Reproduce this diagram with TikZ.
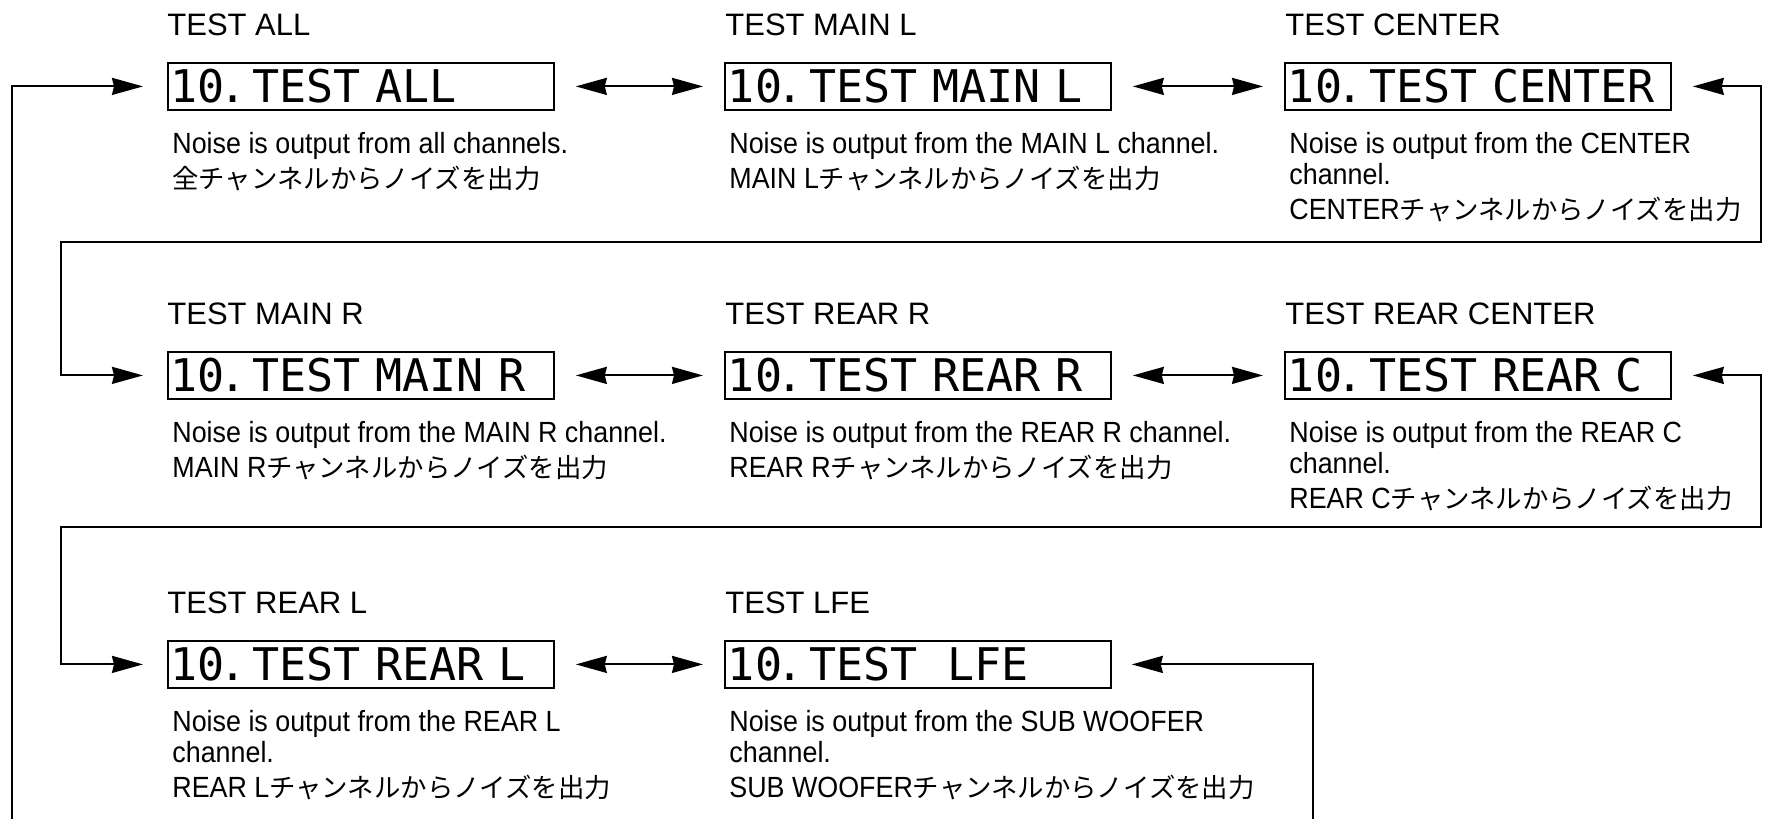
\documentclass[tikz,border=0pt]{standalone}
\usepackage{fontspec}
\setmainfont{Liberation Sans}
\newfontfamily\bodyfont{Liberation Sans}[FakeStretch=0.92]
\newfontfamily\jpfont{Noto Sans CJK JP}
\newfontfamily\lcdfont{DejaVu Sans Mono}
\usetikzlibrary{arrows.meta, positioning}

\newcommand\jp[1]{{\jpfont\fontsize{13.2}{15.5}\selectfont #1}}
\newcommand\lcdno{10\kern-3pt.\kern3pt}

\tikzset{
  lcd/.style={draw, line width=0.9pt, anchor=north west, minimum height=23.5pt,
    text width=190pt, inner xsep=1.5pt, inner ysep=0pt, align=left,
    font=\lcdfont\fontsize{22.5}{22.5}\selectfont},
  title/.style={anchor=base west, inner sep=0pt, font=\fontsize{15.5}{18}\selectfont},
  note/.style={anchor=north west, inner sep=0pt, align=left,
    font=\bodyfont\fontsize{14.6}{15.5}\selectfont},
  tip/.tip={Stealth[length=15.5pt, width=8.5pt, inset=1pt]},
  flow/.style={line width=1pt, -tip},
  both/.style={line width=1pt, tip-tip}
}

\begin{document}
\begin{tikzpicture}[x=0.5pt, y=-0.5pt]
    \useasboundingbox (0,0) rectangle (1766,819);

    % Row 1
    \node[title] (tall) at (167,35) {TEST ALL};
    \node[lcd] (all) at (167,62) {\lcdno TEST ALL};
    \node[note] (nall) at (172,132) {Noise is output from all channels.\\[2pt]
      \jp{全チャンネルからノイズを出力}};

    \node[title] (tmainl) at (725,35) {TEST MAIN L};
    \node[lcd] (mainl) at (724,62) {\lcdno TEST MAIN L};
    \node[note] (nmainl) at (729,132) {Noise is output from the MAIN L channel.\\[2pt]
      MAIN L\jp{チャンネルからノイズを出力}};

    \node[title] (tcen) at (1285,35) {TEST CENTER};
    \node[lcd] (cen) at (1284,62) {\lcdno TEST CENTER};
    \node[note] (ncen) at (1289,132) {Noise is output from the CENTER\\ channel.\\[2pt]
      CENTER\jp{チャンネルからノイズを出力}};

    % Row 2
    \node[title] (tmainr) at (167,324) {TEST MAIN R};
    \node[lcd] (mainr) at (167,351) {\lcdno TEST MAIN R};
    \node[note] (nmainr) at (172,421) {Noise is output from the MAIN R channel.\\[2pt]
      MAIN R\jp{チャンネルからノイズを出力}};

    \node[title] (trearr) at (725,324) {TEST REAR R};
    \node[lcd] (rearr) at (724,351) {\lcdno TEST REAR R};
    \node[note] (nrearr) at (729,421) {Noise is output from the REAR R channel.\\[2pt]
      REAR R\jp{チャンネルからノイズを出力}};

    \node[title] (trearc) at (1285,324) {TEST REAR CENTER};
    \node[lcd] (rearc) at (1284,351) {\lcdno TEST REAR C};
    \node[note] (nrearc) at (1289,421) {Noise is output from the REAR C\\ channel.\\[2pt]
      REAR C\jp{チャンネルからノイズを出力}};

    % Row 3
    \node[title] (trearl) at (167,613) {TEST REAR L};
    \node[lcd] (rearl) at (167,640) {\lcdno TEST REAR L};
    \node[note] (nrearl) at (172,710) {Noise is output from the REAR L\\ channel.\\[2pt]
      REAR L\jp{チャンネルからノイズを出力}};

    \node[title] (tlfe) at (725,613) {TEST LFE};
    \node[lcd] (lfe) at (724,640) {\lcdno TEST~~LFE};
    \node[note] (nlfe) at (729,710) {Noise is output from the SUB WOOFER\\ channel.\\[2pt]
      SUB WOOFER\jp{チャンネルからノイズを出力}};

    % Corners of the loops
    \coordinate (ul) at (61,242);
    \coordinate (ur) at (1761,242);
    \coordinate (ll) at (61,527);
    \coordinate (lr) at (1761,527);
    \coordinate (bl) at (12,819);
    \coordinate (br) at (1313,819);

    % Arrows in the rows
    \draw[both, shorten <=10.5pt, shorten >=10.5pt] (all) -- (mainl);
    \draw[both, shorten <=10.5pt, shorten >=10.5pt] (mainl) -- (cen);
    \draw[both, shorten <=10.5pt, shorten >=10.5pt] (mainr) -- (rearr);
    \draw[both, shorten <=10.5pt, shorten >=10.5pt] (rearr) -- (rearc);
    \draw[both, shorten <=10.5pt, shorten >=10.5pt] (rearl) -- (lfe);

    % Arrows between the rows
    \draw[both, shorten <=12pt, shorten >=10.5pt] (mainr.west) -| (ul) -- (ur) |- (cen.east);
    \draw[both, shorten <=12pt, shorten >=10.5pt] (rearl.west) -| (ll) -- (lr) |- (rearc.east);
    \draw[flow, shorten >=12pt] (bl) |- (all.west);
    \draw[flow, shorten >=10pt] (br) |- (lfe.east);
\end{tikzpicture}
\end{document}
